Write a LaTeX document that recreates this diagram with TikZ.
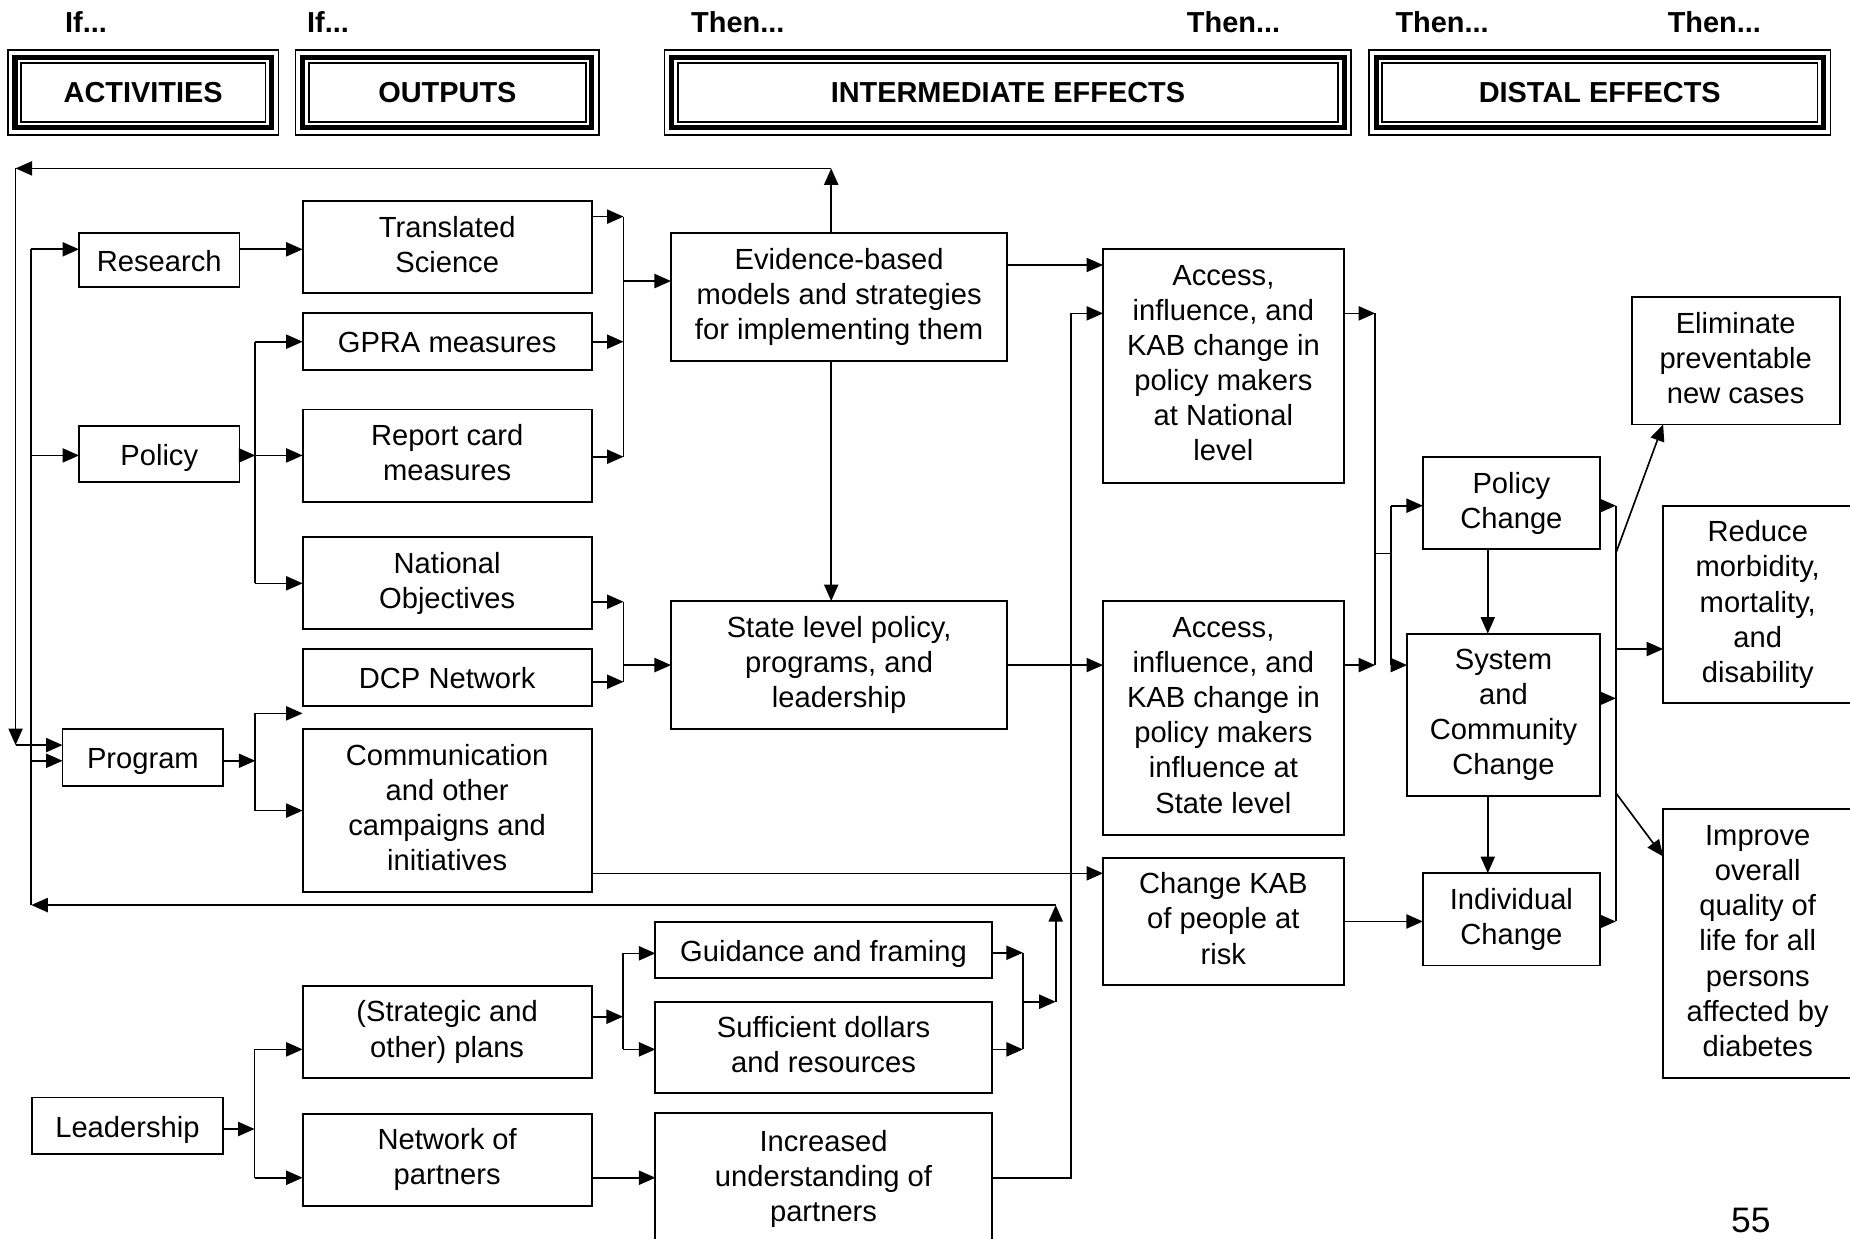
\documentclass[tikz,border=0pt]{standalone}
\usepackage{fontspec}
\setmainfont{Liberation Sans}
\usetikzlibrary{arrows.meta,calc}

% triple border of a column heading: outer thin line (the node), thick band, inner line
\newcommand\tripleframe[1]{%
  \draw[line width=4.3pt] ([shift={(6,6)}]#1.north west) rectangle ([shift={(-6,-6)}]#1.south east);
  \draw[line width=1.6pt] ([shift={(11,11)}]#1.north west) rectangle ([shift={(-11,-11)}]#1.south east);
}

\begin{document}
\begin{tikzpicture}[x=1pt,y=-1pt,
  box/.style={draw, line width=1.6pt, inner sep=0pt, outer sep=0pt, align=center,
              font=\fontsize{24.7}{29.8}\selectfont,
              execute at begin node={\rule{0pt}{24pt}},
              execute at end node={\rule[-5pt]{0pt}{0pt}}},
  ln/.style={line width=1.4pt},
  arr/.style={line width=1.4pt, -{Triangle[length=14pt,width=12pt]}},
  head/.style={font=\fontsize{24.5}{29}\selectfont\bfseries},
  frame/.style={draw, line width=1.2pt, inner sep=0pt, outer sep=0pt,
                font=\fontsize{24.5}{29}\selectfont\bfseries},
]
\useasboundingbox (0,0) rectangle (1568,1050);
\begin{scope}
\clip (0,0) rectangle (1568,1050);

% ---------- column headings ----------
\node[head] (if1) at (72.9,18.4) {If...};
\node[head] (if2) at (278,18.4) {If...};
\node[head] (then1) at (625.3,18.4) {Then...};
\node[head] (then2) at (1045.5,18.4) {Then...};
\node[head] (then3) at (1222.3,18.4) {Then...};
\node[head] (then4) at (1453,18.4) {Then...};

\node[frame, minimum width=229.3pt, minimum height=72pt] (act) at (121.35,78.4) {ACTIVITIES};
\node[frame, minimum width=257pt, minimum height=72pt] (outp) at (379.2,78.4) {OUTPUTS};
\node[frame, minimum width=581.8pt, minimum height=72pt] (inter) at (854.3,78.4) {INTERMEDIATE EFFECTS};
\node[frame, minimum width=391pt, minimum height=72pt] (distal) at (1355.9,78.4) {DISTAL EFFECTS};
\tripleframe{act}
\tripleframe{outp}
\tripleframe{inter}
\tripleframe{distal}

% ---------- activities ----------
\node[box, minimum width=136pt, minimum height=45.5pt] (research) at (135,220.3) {Research};
\node[box, minimum width=136pt, minimum height=48pt] (policy) at (135,384.8) {Policy};
\node[box, minimum width=136.2pt, minimum height=48pt] (program) at (121.1,642.2) {Program};
\node[box, minimum width=162.3pt, minimum height=48.3pt] (leader) at (108,954.3) {Leadership};

% ---------- outputs ----------
\node[box, minimum width=245pt, minimum height=78pt] (ts) at (379,209.7) {Translated\\Science};
\node[box, minimum width=245pt, minimum height=48pt] (gpra) at (379,289.6) {GPRA measures};
\node[box, minimum width=245pt, minimum height=78pt] (report) at (379,386.1) {Report card\\measures};
\node[box, minimum width=245pt, minimum height=78pt] (natobj) at (379,494.4) {National\\Objectives};
\node[box, minimum width=245pt, minimum height=48pt] (dcp) at (379,574.3) {DCP Network};
\node[box, minimum width=245pt, minimum height=137.6pt] (comm) at (379,687) {Communication\\and other\\campaigns and\\initiatives};
\node[box, minimum width=245pt, minimum height=78pt] (plans) at (379,874.6) {(Strategic and\\other) plans};
\node[box, minimum width=245pt, minimum height=78pt] (netp) at (379,982.8) {Network of\\partners};
\node[box, minimum width=285pt, minimum height=48pt] (guid) at (698,805.1) {Guidance and framing};
\node[box, minimum width=285pt, minimum height=77.7pt] (suff) at (698,887.9) {Sufficient dollars\\and resources};
\node[box, minimum width=285pt, minimum height=111.2pt] (incr) at (698,999.3) {Increased\\understanding of\\partners};

% ---------- intermediate effects ----------
\node[box, minimum width=285pt, minimum height=108pt] (evid) at (711.2,251.8) {Evidence-based\\models and strategies\\for implementing them};
\node[box, minimum width=285pt, minimum height=108.5pt] (state) at (711.2,563.7) {State level policy,\\programs, and\\leadership};
\node[box, minimum width=204pt, minimum height=197.8pt] (accN) at (1036.9,310.2) {Access,\\influence, and\\KAB change in\\policy makers\\at National\\level};
\node[box, minimum width=204pt, minimum height=198.3pt] (accS) at (1036.9,608.6) {Access,\\influence, and\\KAB change in\\policy makers\\influence at\\State level};
\node[box, minimum width=204pt, minimum height=107.8pt] (ckab) at (1036.9,780.9) {Change KAB\\of people at\\risk};
\node[box, minimum width=150pt, minimum height=78pt] (polc) at (1281,426.6) {Policy\\Change};
\node[box, minimum width=163.4pt, minimum height=138pt] (sysc) at (1274.3,606) {System\\and\\Community\\Change};
\node[box, minimum width=150pt, minimum height=78.3pt] (indc) at (1281,779.2) {Individual\\Change};

% ---------- distal effects ----------
\node[box, minimum width=176.2pt, minimum height=107.7pt] (elim) at (1471.1,305.9) {Eliminate\\preventable\\new cases};
\node[box, minimum width=160.4pt, minimum height=167.5pt] (reduce) at (1489.8,512.4) {Reduce\\morbidity,\\mortality,\\and\\disability};
\node[box, minimum width=160.4pt, minimum height=227.8pt] (improve) at (1489.8,799.9) {Improve\\overall\\quality of\\life for all\\persons\\affected by\\diabetes};

\node[anchor=base, font=\fontsize{30}{36}\selectfont] (pg) at (1484,1045) {55};

% ---------- feedback rails on the left ----------
\coordinate (top) at (704.5,142.7);
\coordinate (rOtop) at (13.2,142.7);
\coordinate (rOprg) at (13.2,631.5);
\coordinate (rItop) at (26.5,211.3);
\coordinate (rIpol) at (26.5,386);
\coordinate (rIprg) at (26.5,644.8);
\coordinate (rIbot) at (26.5,767.1);
\coordinate (upx) at (894.8,767.1);

\draw[arr] (top |- evid.north) -- (top);
\draw[arr] (top) -- (rOtop);
\draw[arr] (rOtop) -- (rOprg);
\draw[arr] (rOprg) -- (rOprg -| program.west);
\draw[ln] (rItop) -- (rIbot);
\draw[arr] (rItop) -- (rItop -| research.west);
\draw[arr] (rIpol) -- (rIpol -| policy.west);
\draw[arr] (rIprg) -- (rIprg -| program.west);
\draw[arr] (upx) -- (rIbot);

% ---------- activities to outputs ----------
\draw[arr] (research.east |- rItop) -- (ts.west |- rItop);

\coordinate (px) at (216.4,0);
\draw[arr] (policy.east |- rIpol) -- (px |- rIpol);
\draw[ln] (px |- gpra.west) -- (px |- natobj.west);
\draw[arr] (px |- gpra.west) -- (gpra.west);
\draw[arr] (px |- rIpol) -- (report.west |- rIpol);
\draw[arr] (px |- natobj.west) -- (natobj.west);

\coordinate (b4t) at (216.4,604.6);
\coordinate (b4m) at (216.4,644.8);
\coordinate (b4e) at (256.5,604.6);
\draw[arr] (program.east |- b4m) -- (b4m);
\draw[ln] (b4t) -- (b4t |- comm.west);
\draw[arr] (b4t) -- (b4e);
\draw[arr] (b4t |- comm.west) -- (comm.west);

\coordinate (b5t) at (215.8,889.4);
\coordinate (b5m) at (215.8,956.9);
\coordinate (b5b) at (215.8,998.2);
\draw[arr] (leader.east |- b5m) -- (b5m);
\draw[ln] (b5t) -- (b5b);
\draw[arr] (b5t) -- (b5t -| plans.west);
\draw[arr] (b5b) -- (b5b -| netp.west);

% ---------- outputs to intermediate effects ----------
\coordinate (b1t) at (528.5,183.6);
\coordinate (b1b) at (528.5,387.1);
\coordinate (b1o) at (528.5,238.2);
\draw[arr] (ts.east |- b1t) -- (b1t);
\draw[arr] (gpra.east) -- (gpra.east -| b1t);
\draw[arr] (report.east |- b1b) -- (b1b);
\draw[ln] (b1t) -- (b1b);
\draw[arr] (b1o) -- (b1o -| evid.west);

\coordinate (b3t) at (528.5,510);
\coordinate (b3b) at (528.5,577.8);
\draw[arr] (natobj.east |- b3t) -- (b3t);
\draw[arr] (dcp.east |- b3b) -- (b3b);
\draw[ln] (b3t) -- (b3b);
\draw[arr] (b3t |- state.west) -- (state.west);

\coordinate (b6t) at (528,808);
\coordinate (b6m) at (528,861.7);
\coordinate (b6b) at (528,889.4);
\draw[arr] (plans.east |- b6m) -- (b6m);
\draw[ln] (b6t) -- (b6b);
\draw[arr] (b6t) -- (b6t -| guid.west);
\draw[arr] (b6b) -- (b6b -| suff.west);

\coordinate (b7t) at (867,807.5);
\coordinate (b7m) at (867,849);
\coordinate (b7b) at (867,889.4);
\draw[arr] (guid.east |- b7t) -- (b7t);
\draw[arr] (suff.east |- b7b) -- (b7b);
\draw[ln] (b7t) -- (b7b);
\draw[arr] (b7m) -- (b7m -| upx);
\draw[arr] (b7m -| upx) -- (upx);

\draw[arr] (netp.east |- b5b) -- (incr.west |- b5b);

\coordinate (cy) at (0,740.2);
\draw[arr] (comm.east |- cy) -- (ckab.west |- cy);

% ---------- intermediate effects ----------
\coordinate (rx) at (908,265.6);
\draw[arr] (incr.east |- b5b) -| (rx) -- (rx -| accN.west);

\coordinate (ea) at (0,224.6);
\draw[arr] (evid.east |- ea) -- (accN.west |- ea);
\draw[arr] (top |- evid.south) -- (top |- state.north);
\draw[arr] (state.east) -- (state.east -| accS.west);

\coordinate (b8t) at (1165.5,265.6);
\coordinate (b8b) at (1165.5,563.7);
\coordinate (b8m) at (1165.5,469);
\coordinate (b9m) at (1179.2,469);
\coordinate (b9t) at (1179.2,428.6);
\coordinate (b9b) at (1179.2,563.7);
\draw[arr] (accN.east |- b8t) -- (b8t);
\draw[arr] (accS.east |- b8b) -- (b8b);
\draw[ln] (b8t) -- (b8b);
\draw[ln] (b8m) -- (b9m);
\draw[ln] (b9t) -- (b9b);
\draw[arr] (b9t) -- (b9t -| polc.west);
\draw[arr] (b9b) -- (b9b -| sysc.west);

\coordinate (vx) at (1261,0);
\draw[arr] (vx |- polc.south) -- (vx |- sysc.north);
\draw[arr] (vx |- sysc.south) -- (vx |- indc.north);

% ---------- to distal effects ----------
\coordinate (b10a) at (1369.5,428.6);
\coordinate (b10b) at (1369.5,591.9);
\coordinate (b10c) at (1369.5,781);
\draw[arr] (ckab.east |- b10c) -- (indc.west |- b10c);
\draw[arr] (polc.east |- b10a) -- (b10a);
\draw[arr] (sysc.east |- b10b) -- (b10b);
\draw[arr] (indc.east |- b10c) -- (b10c);
\draw[ln] (b10a) -- (b10c);

\coordinate (d1) at (1369.5,469);
\coordinate (d2) at (1369.5,550.1);
\coordinate (d3) at (1369.5,672);
\draw[arr] (d1) -- (elim.south -| reduce.west);
\draw[arr] (d2) -- (d2 -| reduce.west);
\draw[arr] (d3) -- ($(improve.north west)+(0,39.9)$);
\end{scope}
\end{tikzpicture}
\end{document}
